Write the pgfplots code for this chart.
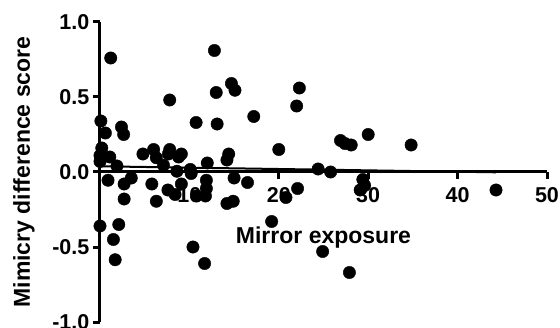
\documentclass[border=0pt]{standalone}
\usepackage{pgfplots}
\pgfplotsset{compat=1.18}
\usepackage{fontspec}
\setmainfont{Liberation Sans}
\begin{document}
\begin{tikzpicture}
\begin{axis}[
  scale only axis,
  width=447pt, height=300pt,
  xmin=0, xmax=50, ymin=-1, ymax=1,
  clip=false,
  axis y line=left,
  axis x line=middle,
  axis line style={line width=3pt, -},
  every tick/.style={line width=3pt, black},
  tick align=outside,
  major tick length=7pt,
  xtick={10,20,30,40,50},
  xticklabels={10,20,30,40,50},
  ytick={-1,-0.5,0,0.5,1},
  yticklabels={-1.0,-0.5,0.0,0.5,1.0},
  tick label style={font=\fontsize{21.5}{21.5}\selectfont\bfseries},
  xticklabel style={anchor=north, inner ysep=8pt},
  yticklabel style={anchor=east, inner xsep=3.5pt},
  xlabel={Mirror exposure},
  ylabel={Mimicry difference score},
  label style={font=\fontsize{23}{23}\selectfont\bfseries},
  xlabel style={at={(axis description cs:0.5,0.283)}, anchor=center},
  ylabel style={at={(axis description cs:-0.17,0.5)}, anchor=center, rotate=0},
]
\addplot[only marks, mark=*, mark size=6.2pt, black] coordinates {
(1.2,0.76) (0.1,0.34) (0.6,0.26) (2.4,0.30) (2.65,0.25) (0.2,0.16) (0.0,0.11)
(1.1,0.10) (0.0,0.07) (1.9,0.04) (0.9,-0.055) (2.7,-0.08) (3.5,-0.04) (2.7,-0.18)
(0.0,-0.36) (2.1,-0.35) (1.5,-0.45) (1.7,-0.585)
(4.8,0.12) (6.0,0.15) (6.3,0.095) (7.8,0.15) (7.65,0.12) (9.1,0.12) (8.8,0.10)
(7.1,0.045) (8.6,0.005) (10.1,0.017) (10.2,-0.01) (12.0,0.06) (5.8,-0.08)
(6.3,-0.195) (7.6,-0.12) (8.4,-0.15) (9.1,-0.08) (10.8,-0.16) (11.8,-0.16)
(11.9,-0.11) (11.9,-0.055) (10.4,-0.50) (11.7,-0.61) (7.8,0.48) (10.75,0.33)
(12.8,0.81) (13.0,0.53) (13.1,0.32) (14.2,0.08) (14.4,0.12) (14.7,0.59)
(15.1,0.545) (14.2,-0.21) (14.9,-0.195) (15.0,-0.04) (16.5,-0.07) (17.2,0.37)
(19.2,-0.33) (20.0,0.15) (20.8,-0.17) (22.1,-0.11) (22.0,0.44) (22.3,0.56)
(24.4,0.02) (25.8,0.0) (26.9,0.21) (27.4,0.19) (28.1,0.18) (30.0,0.25)
(34.8,0.18) (29.4,-0.05) (29.6,-0.09) (29.1,-0.12) (44.3,-0.12)
(24.9,-0.53) (27.9,-0.67)
};
\addplot[black, line width=2pt] coordinates {(0,0.038) (44.3,-0.002)};
\end{axis}
\pgfresetboundingbox
\path[use as bounding box] (-100pt,-5pt) rectangle (460pt,322pt);
\end{tikzpicture}
\end{document}
